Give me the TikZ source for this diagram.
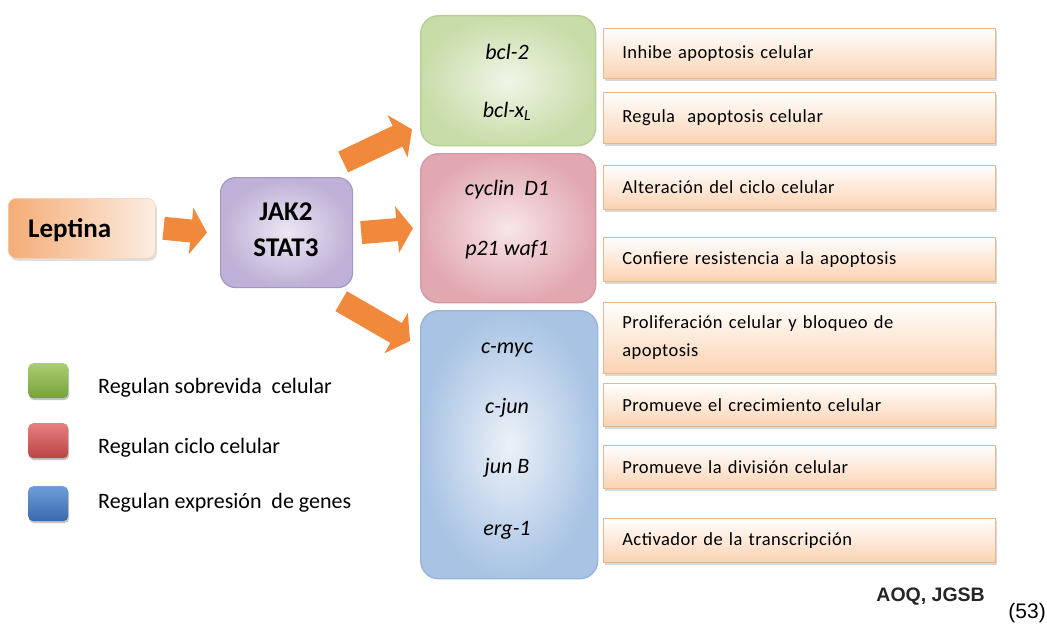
\documentclass[tikz,border=0pt]{standalone}
\usepackage{fontspec}
\setmainfont{Carlito}
\newfontfamily\boxfont[LetterSpace=2.5]{Carlito}
\newfontfamily\arialf{Liberation Sans}
\usetikzlibrary{arrows.meta,shadows,positioning}
\definecolor{arrorange}{HTML}{F0893C}
\definecolor{peach}{HTML}{FBD3B2}
\definecolor{peachborder}{HTML}{E3B994}
\definecolor{jakborder}{HTML}{A597C3}
\begin{document}
\begin{tikzpicture}[x=1pt,y=-1pt,
  every node/.style={inner sep=0pt},
  barrow/.style={line width=23pt, draw=arrorange, -{Triangle[length=16pt,width=46pt]}},
  descbox/.style={draw=peachborder, line width=0.6pt, top color=white, bottom color=peach,
     drop shadow={shadow xshift=1.5pt,shadow yshift=-2.5pt,fill=black!30},
     anchor=north west, text width=354pt, inner xsep=19pt, align=left,
     font=\boxfont\fontsize{18.5}{28}\selectfont},
  genebox/.style={rounded corners=18pt, line width=1.4pt, anchor=north west,
     minimum width=#1},
  genetext/.style={font=\itshape\fontsize{22}{26}\selectfont},
  legsq/.style={rounded corners=5pt, minimum width=40pt, minimum height=35pt, anchor=north west,
     drop shadow={shadow xshift=1pt,shadow yshift=-2pt,fill=black!45}},
  legtext/.style={anchor=west, font=\fontsize{22}{26}\selectfont}
]
\useasboundingbox[fill=white] (0,0) rectangle (1047,626);

% Leptina
\node[rounded corners=8pt, left color=arrorange!70, right color=arrorange!15, draw=arrorange!40,
  line width=0.6pt, drop shadow={shadow xshift=1.5pt,shadow yshift=-2.5pt,fill=black!25},
  minimum width=147pt, minimum height=60pt, anchor=north west] (lep) at (8,198) {};
\node[anchor=west, font=\bfseries\fontsize{27}{30}\selectfont] (leptxt) at (28,230) {Leptina};

% JAK2 STAT3
\node[rounded corners=15pt, draw=jakborder, line width=1.2pt, inner color={rgb,255:red,236;green,231;blue,243},
  outer color={rgb,255:red,190;green,176;blue,214}, minimum width=132pt, minimum height=110pt,
  anchor=north west] (jak) at (220,177) {};
\node[font=\bfseries\fontsize{27}{30}\selectfont] (jak1) at (286,212) {JAK2};
\node[font=\bfseries\fontsize{27}{30}\selectfont] (jak2) at (286,248) {STAT3};

% gene boxes
\node[genebox=175pt, minimum height=130pt, draw={rgb,255:red,181;green,207;blue,149},
  inner color={rgb,255:red,240;green,245;blue,232}, outer color={rgb,255:red,200;green,220;blue,168}] (grn) at (420,15) {};
\node[genebox=175pt, minimum height=149pt, draw={rgb,255:red,212;green,154;blue,164},
  inner color={rgb,255:red,248;green,230;blue,233}, outer color={rgb,255:red,226;green,168;blue,178}] (red) at (420,153) {};
\node[genebox=177pt, minimum height=268pt, draw={rgb,255:red,152;green,180;blue,218},
  inner color={rgb,255:red,236;green,241;blue,248}, outer color={rgb,255:red,168;green,195;blue,228}] (blu) at (420,310) {};

\node[genetext] (g1) at (507,52) {bcl-2};
\node[genetext] (g2) at (507,111) {bcl-x\textsubscript{L}};
\node[genetext] (g3) at (507,190) {cyclin\ \ D1};
\node[genetext] (g4) at (507,250) {p21 waf1};
\node[genetext] (g5) at (507,350) {c-myc};
\node[genetext] (g6) at (507,408) {c-jun};
\node[genetext] (g7) at (507,468) {jun B};
\node[genetext] (g8) at (507,530) {erg-1};

% description boxes
\node[descbox, minimum height=50pt] (d1) at (603,28) {Inhibe apoptosis celular};
\node[descbox, minimum height=51pt] (d2) at (603,92) {Regula\ \ apoptosis celular};
\node[descbox, minimum height=44pt] (d3) at (603,165) {Alteración del ciclo celular};
\node[descbox, minimum height=44pt] (d4) at (603,237) {Confiere resistencia a la apoptosis};
\node[descbox, minimum height=71pt] (d5) at (603,302) {Proliferación celular y bloqueo de\\apoptosis};
\node[descbox, minimum height=43pt] (d6) at (603,383) {Promueve el crecimiento celular};
\node[descbox, minimum height=43pt] (d7) at (603,445) {Promueve la división celular};
\node[descbox, minimum height=44pt] (d8) at (603,518) {Activador de la transcripción};

% arrows
\draw[barrow] ([xshift=8pt]lep.east) -- ([xshift=-13pt]jak.west);
\draw[barrow] ([xshift=8pt]jak.east) -- ([xshift=-7pt]red.west);
\draw[barrow] ([xshift=-10pt,yshift=15pt]jak.north east) -- ([xshift=-8pt,yshift=17pt]grn.south west);
\draw[barrow] ([xshift=-12pt,yshift=-13pt]jak.south east) -- ([xshift=-10pt,yshift=-31pt]blu.north west);

% legend
\node[legsq, top color={rgb,255:red,170;green,205;blue,110}, bottom color={rgb,255:red,120;green,160;blue,62}] (lg) at (28,363) {};
\node[legsq, top color={rgb,255:red,230;green,128;blue,128}, bottom color={rgb,255:red,186;green,68;blue,68}] (lr) at (28,423) {};
\node[legsq, top color={rgb,255:red,110;green,158;blue,216}, bottom color={rgb,255:red,58;green,104;blue,174}] (lb) at (28,486) {};
\node[legtext] (lgt) at (98,388) {Regulan sobrevida\ \ celular};
\node[legtext] (lrt) at (98,448) {Regulan ciclo celular};
\node[legtext] (lbt) at (98,503) {Regulan expresión\ \ de genes};

% credits
\node[anchor=east, font=\arialf\bfseries\fontsize{19.5}{22}\selectfont, text=black!85] (cred) at (985,597) {AOQ, JGSB};
\node[anchor=east, font=\arialf\fontsize{21}{24}\selectfont] (ref) at (1046,613) {(53)};
\end{tikzpicture}
\end{document}
